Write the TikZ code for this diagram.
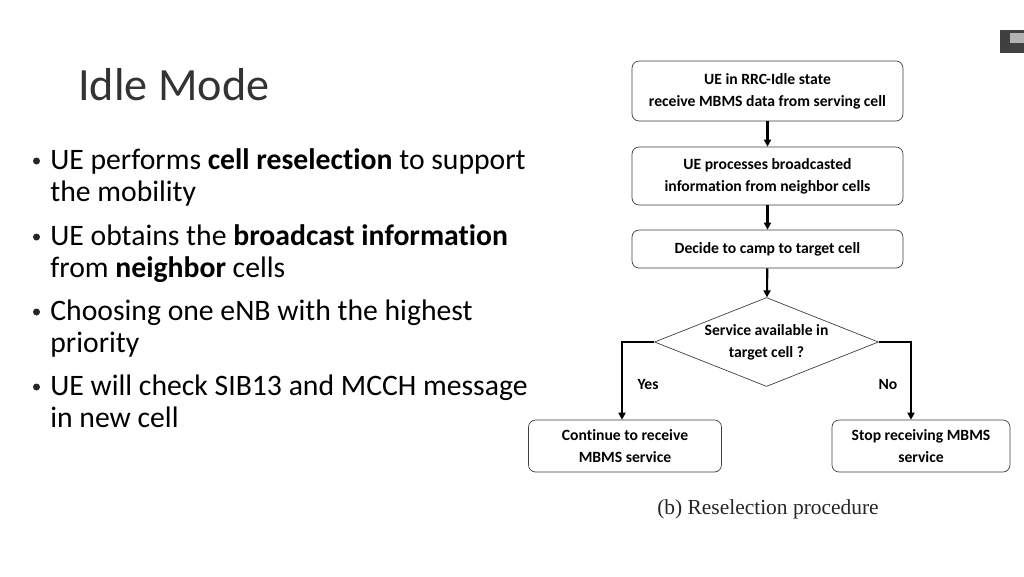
\documentclass[tikz,border=0pt]{standalone}
\usepackage{fontspec}
\setmainfont{Carlito}[Ligatures=NoCommon]
\newfontfamily\capfont{Liberation Serif}
\usetikzlibrary{shapes.geometric,arrows.meta}

\begin{document}
\begin{tikzpicture}[x=0.02cm, y=-0.02cm,
    box/.style={draw=black!75, rounded corners=4pt, align=center, inner sep=0pt,
        font=\fontsize{8.9}{12.5}\selectfont\bfseries},
    item/.style={anchor=base west, inner sep=0pt, font=\fontsize{16.9}{18}\selectfont},
    dot/.style={circle, fill=black!85, inner sep=0pt, minimum size=0.14cm},
    flow/.style={-{Triangle[length=4pt,width=4pt]}, line width=1.2pt}]

    % page
    \fill[white] (0,0) rectangle (1024,576);
    \useasboundingbox (0,0) rectangle (1024,576);

    % corner icon
    \fill[black!75] (1000,30) rectangle (1024,53);
    \fill[black!30] (1010,33) rectangle (1024,43);

    % title
    \node[anchor=base west, inner sep=0pt, text=black!80,
        font=\fontsize{26.3}{30}\selectfont] (title) at (78,100) {Idle Mode};

    % bullets
    \foreach \y/\n in {169/1, 245/2, 320/3, 395/4}
        \node[dot] (dot\n) at (36.5,\y-8) {};
    \node[item] (t1a) at (50,169) {UE performs \textbf{cell reselection} to support};
    \node[item] (t1b) at (50,201) {the mobility};
    \node[item] (t2a) at (50,245) {UE obtains the \textbf{broadcast information}};
    \node[item] (t2b) at (50,277) {from \textbf{neighbor} cells};
    \node[item] (t3a) at (50,320) {Choosing one eNB with the highest};
    \node[item] (t3b) at (50,352) {priority};
    \node[item] (t4a) at (50,395) {UE will check SIB13 and MCCH message};
    \node[item] (t4b) at (50,427) {in new cell};

    % flow chart
    \node[box, minimum width=5.42cm, minimum height=1.2cm] (idle) at (767.5,91)
        {UE in RRC-Idle state\\receive MBMS data from serving cell};
    \node[box, minimum width=5.42cm, minimum height=1.16cm] (proc) at (767.5,176)
        {UE processes broadcasted\\information from neighbor cells};
    \node[box, minimum width=5.42cm, minimum height=0.76cm] (camp) at (767.5,249)
        {Decide to camp to target cell};
    \node[draw=black!75, diamond, aspect=2.52, minimum width=4.48cm, minimum height=1.78cm,
        inner sep=0pt, align=center, font=\fontsize{8.9}{12.5}\selectfont\bfseries] (avail)
        at (766.5,342) {Service available in\\target cell ?};
    \node[box, minimum width=3.86cm, minimum height=1.04cm] (cont) at (625,446)
        {Continue to receive\\MBMS service};
    \node[box, minimum width=3.56cm, minimum height=1.04cm] (stop) at (921,446)
        {Stop receiving MBMS\\service};

    \draw[flow] (idle) -- (proc);
    \draw[flow] (proc) -- (camp);
    \draw[flow] (camp) -- (avail);
    \draw[flow] (avail.west) -| ([xshift=-0.06cm]cont.north);
    \draw[flow] (avail.east) -| ([xshift=-0.2cm]stop.north);

    % branch labels
    \node[font=\fontsize{8.9}{9}\selectfont\bfseries] (yes) at (648,384) {Yes};
    \node[font=\fontsize{8.9}{9}\selectfont\bfseries] (no) at (888,384) {No};

    % caption
    \node[font=\capfont\fontsize{12.2}{13}\selectfont, text=black!85] (cap) at (768,509)
        {(b) Reselection procedure};
\end{tikzpicture}
\end{document}
